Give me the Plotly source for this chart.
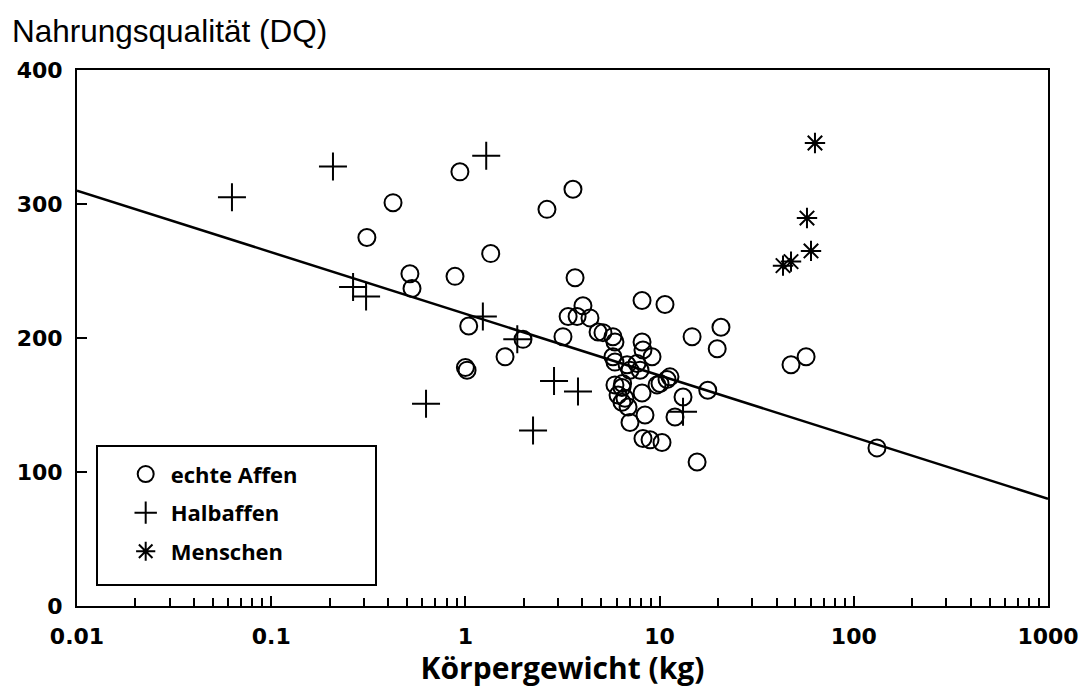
import plotly.graph_objects as go

# Körpergewicht (kg) und Nahrungsqualität (DQ) je Gruppe
affen_kg = [0.311, 0.424, 0.518, 0.531, 0.884, 0.937, 1.35, 1.04, 1.0, 1.02,
            1.6, 1.98, 2.63, 3.58, 3.18, 3.67,
            4.03, 3.38, 3.76, 4.38, 4.82, 5.11, 5.75, 5.89, 8.12, 10.66,
            8.12, 8.21, 9.14, 5.75, 14.7, 20.7, 19.8, 5.89, 6.8, 7.65,
            7.04, 7.93, 9.7, 10.92, 11.31, 5.89, 6.4, 6.11, 6.63, 8.12,
            6.88, 8.41, 7.04, 13.2, 17.7, 12.0, 8.21, 8.93, 10.29, 15.6,
            6.4, 10.05, 6.45,
            47.5, 56.8, 131.6]
affen_dq = [275, 301, 248, 237, 246, 324, 263, 209, 178, 176,
            186, 199, 296, 311, 201, 245,
            224, 216, 216, 215, 204.5, 204, 201, 197, 228, 225,
            197, 191, 186, 186, 201, 208, 192, 182, 180, 181,
            176, 176, 165, 169, 171, 165, 163, 157.5, 155, 159,
            148.5, 142.5, 137, 156, 161, 141, 125, 124, 122, 107.5,
            152, 166, 166,
            180, 186, 118]

halbaffen_kg = [0.0628, 0.208, 1.28, 0.264, 0.308, 1.23, 0.627, 2.23, 2.86, 3.80, 13.2, 1.85]
halbaffen_dq = [305, 328, 336, 238, 231, 216, 151, 131, 168, 160, 145, 199]

menschen_kg = [63.1, 57.4, 60.2, 43.2, 47.5]
menschen_dq = [345.5, 289.5, 265, 254, 257]

# Regressionsgerade
linie_kg = [0.01, 1000]
linie_dq = [310, 80]

x_ticks = [0.01, 0.1, 1, 10, 100, 1000]
x_ticktext = ["0.01", "0.1", "1", "10", "100", "1000"]
x_minor = [m * 10 ** e for e in range(-2, 3) for m in range(2, 10)]
y_ticks = [0, 100, 200, 300, 400]

fig = go.Figure()

fig.add_trace(go.Scatter(
    x=linie_kg, y=linie_dq, mode="lines",
    line=dict(color="black", width=2.5), showlegend=False, hoverinfo="skip"))

fig.add_trace(go.Scatter(
    x=affen_kg, y=affen_dq, mode="markers", name="echte Affen", legendgroup="a",
    marker=dict(symbol="circle-open", size=17, color="black", line=dict(width=2))))

fig.add_trace(go.Scatter(
    x=halbaffen_kg, y=halbaffen_dq, mode="markers", name="Halbaffen", legendgroup="b",
    marker=dict(symbol="cross-thin-open", size=20, color="black", line=dict(width=2))))

fig.add_trace(go.Scatter(
    x=menschen_kg, y=menschen_dq, mode="markers", name="Menschen", legendgroup="c",
    marker=dict(symbol="asterisk-open", size=17, color="black", line=dict(width=2))))

tick_font = dict(family="DejaVu Sans", size=22, color="black", weight="bold")

fig.update_layout(
    width=1084, height=688,
    margin=dict(l=77, r=36, t=70, b=82, autoexpand=False),
    paper_bgcolor="white", plot_bgcolor="white",
    font=dict(family="Liberation Sans", color="black"),
    showlegend=True,
    legend=dict(
        x=0.045, y=0.285, xanchor="left", yanchor="top",
        bgcolor="rgba(0,0,0,0)", borderwidth=0,
        font=dict(family="Open Sans", size=22, color="black", weight="bold"),
        tracegroupgap=7, itemwidth=40,
    ),
    annotations=[dict(
        text="Nahrungsqualität (DQ)", xref="paper", yref="paper",
        x=-0.0685, y=1.0, xanchor="left", yanchor="bottom", yshift=19,
        showarrow=False, font=dict(family="Liberation Sans", size=31.5, color="black"))],
    shapes=[dict(
        type="rect", xref="paper", yref="paper",
        x0=(97 - 77) / 971, x1=(376 - 77) / 971,
        y0=(606 - 585) / 536, y1=(606 - 446) / 536,
        line=dict(color="black", width=2), fillcolor="rgba(0,0,0,0)", layer="below")],
)

fig.update_xaxes(
    type="log", range=[-2, 3], automargin=False,
    tickmode="array", tickvals=x_ticks, ticktext=x_ticktext,
    ticks="inside", ticklen=10, tickwidth=1.5, tickcolor="black",
    minor=dict(tickmode="array", tickvals=x_minor, ticks="inside",
               ticklen=8, tickwidth=1.5, tickcolor="black", showgrid=False),
    showline=True, linecolor="black", linewidth=2, mirror=True,
    showgrid=False, zeroline=False,
    tickfont=tick_font, ticklabelstandoff=10,
    title=dict(text="Körpergewicht (kg)", standoff=8,
               font=dict(family="Open Sans", size=30, color="black", weight="bold")),
)

fig.update_yaxes(
    range=[0, 400], tickmode="array", tickvals=y_ticks, automargin=False,
    ticks="inside", ticklen=10, tickwidth=1.5, tickcolor="black",
    showline=True, linecolor="black", linewidth=2, mirror=True,
    showgrid=False, zeroline=False,
    tickfont=tick_font, ticklabelstandoff=8,
)

fig.write_html("out.html")
